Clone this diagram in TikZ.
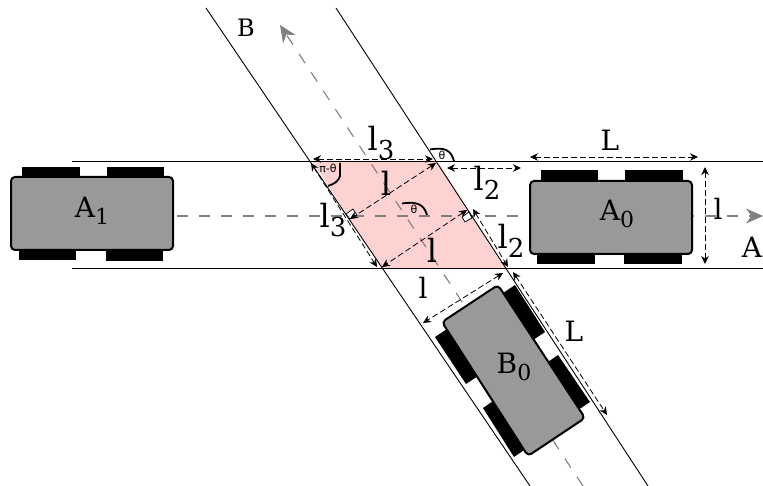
\documentclass[tikz,border=0pt]{standalone}
\usepackage{fontspec}
\setmainfont{DejaVu Serif}
\newfontfamily\anglefont{DejaVu Sans}
\usetikzlibrary{arrows.meta}
\newcommand\subs[2][22]{\raisebox{-.26em}{\fontsize{#1}{#1}\selectfont #2}}
\definecolor{bodygray}{HTML}{999999}
\definecolor{pinkzone}{HTML}{FFD2D2}
\tikzset{
  road/.style={draw=black,line width=0.9pt},
  axis/.style={draw=black!50,line width=1.1pt,dash pattern=on 11pt off 11pt,-{Stealth[length=17pt,width=15pt]}},
  dim/.style={draw=black,line width=0.8pt,dash pattern=on 6pt off 3pt,{Stealth[length=8pt,width=7.5pt]}-{Stealth[length=8pt,width=7.5pt]}},
  wheel/.style={fill=black,draw=none},
  body/.style={fill=bodygray,draw=black,line width=2pt,rounded corners=4pt},
  lab/.style={font=\fontsize{28}{28}\selectfont,inner sep=0pt},
  biglab/.style={font=\fontsize{32}{32}\selectfont,inner sep=0pt},
  anglemark/.style={draw=black,line width=1.8pt},
  anglelab/.style={font=\anglefont\fontsize{11}{11}\selectfont,inner sep=0pt},
  rightmark/.style={fill=white,draw=black,line width=0.7pt},
}
\begin{document}
\begin{tikzpicture}[x=1pt,y=-1pt]
\useasboundingbox (0,0) rectangle (763,486);
% named points of the roads
\coordinate (atl) at (72,161);   \coordinate (atr) at (763,161);
\coordinate (abl) at (72,268);   \coordinate (abr) at (763,268);
\coordinate (bl1) at (206,8);    \coordinate (bl2) at (530,486);
\coordinate (br1) at (336,8);    \coordinate (br2) at (648,486);
\coordinate (p1) at (312,161);   \coordinate (p2) at (437,161);
\coordinate (p3) at (505,268);   \coordinate (p4) at (382,268);
% conflict zone
\fill[pinkzone] (p1) -- (p2) -- (p3) -- (p4) -- cycle;
% axes
\coordinate (axs) at (177,216);  \coordinate (axe) at (763,216);
\coordinate (bxs) at (583,486);  \coordinate (bxe) at (280,25);
\draw[axis] (axs) -- (axe);
\draw[axis] (bxs) -- (bxe);
% roads
\draw[road] (atl) -- (atr);
\draw[road] (abl) -- (abr);
\draw[road] (bl1) -- (bl2);
\draw[road] (br1) -- (br2);
% car A1
\fill[wheel] (22,167) rectangle (80,178);
\fill[wheel] (107,167) rectangle (164,178);
\fill[wheel] (19,249) rectangle (76,260);
\fill[wheel] (106,249) rectangle (163,261);
\draw[body] (11,177) rectangle (173,250);
\node[lab] (A1) at (92,211) {A\subs{1}};
% car A0
\fill[wheel] (541,170) rectangle (598,182);
\fill[wheel] (625,170) rectangle (683,182);
\fill[wheel] (537,253) rectangle (595,264);
\fill[wheel] (624,253) rectangle (682,264);
\draw[body] (530,181) rectangle (692,254);
\node[lab] (A0) at (617,214) {A\subs{0}};
% car B0
\fill[wheel] (500,295) -- (515,285) -- (545,332) -- (530,342) -- cycle;
\fill[wheel] (545,364) -- (558,355) -- (590,402) -- (575,412) -- cycle;
\fill[wheel] (450,327) -- (435,337) -- (466,384) -- (481,374) -- cycle;
\fill[wheel] (496,399) -- (483,408) -- (514,457) -- (527,448) -- cycle;
\draw[body] (498,285) -- (585,418) -- (528,456) -- (442,322) -- cycle;
\node[lab] (B0) at (514,367) {B\subs{0}};
% right angle marks
\draw[rightmark] (346,214) -- (353,209) -- (357,215) -- (350,219) -- cycle;
\draw[rightmark] (462,217) -- (469,212) -- (472,218) -- (465,222) -- cycle;
% dimensions
\coordinate (dLa) at (530,157);  \coordinate (dLb) at (698,157);
\coordinate (dla) at (705,167);  \coordinate (dlb) at (705,264);
\coordinate (tha) at (313,159);  \coordinate (thb) at (433,159);
\coordinate (tta) at (447,168);  \coordinate (ttb) at (521,168);
\coordinate (u1) at (436,163);   \coordinate (u2) at (350,219);
\coordinate (w1) at (467,210);   \coordinate (w2) at (382,267);
\coordinate (s1) at (311,163);   \coordinate (s2) at (377,267);
\coordinate (r1) at (473,209);   \coordinate (r2) at (508,267);
\coordinate (c1) at (503,273);   \coordinate (c2) at (423,323);
\coordinate (e1) at (513,272);   \coordinate (e2) at (607,415);
\draw[dim] (dLa) -- (dLb);
\draw[dim] (dla) -- (dlb);
\draw[dim] (tha) -- (thb);
\draw[dim] (tta) -- (ttb);
\draw[dim] (u1) -- (u2);
\draw[dim] (w1) -- (w2);
\draw[dim] (s1) -- (s2);
\draw[dim] (r1) -- (r2);
\draw[dim] (c1) -- (c2);
\draw[dim] (e1) -- (e2);
% angle marks
\draw[anglemark] (430,149.5) .. controls (445,147) and (451,150) .. (454,161);
\draw[anglemark] (402,203.5) .. controls (418,201) and (424,205) .. (427,215);
\draw[anglemark] (340,163) -- (340,176) .. controls (339,181) and (334,184) .. (328,186);
\node[anglelab] (t1) at (442,155) {θ};
\node[anglelab] (t2) at (414,209) {θ};
\node[anglelab] (t3) at (328,168) {π-θ};
% labels
\node[biglab] (n1) at (381,143) {l\subs[26]{3}};
\node[biglab] (n2) at (386,183) {l};
\node[biglab] (n3) at (487,183) {l\subs[26]{2}};
\node[biglab] (n4) at (333,220) {l\subs[26]{3}};
\node[biglab] (n5) at (432,250) {l};
\node[biglab] (n6) at (511,241) {l\subs[26]{2}};
\node[lab] (n7) at (423,288) {l};
\node[lab] (n8) at (574,331) {L};
\node[lab] (n9) at (610,140) {L};
\node[lab] (n10) at (718,209) {l};
\node[lab] (n11) at (752,247) {A};
\node[lab,font=\fontsize{24}{24}\selectfont] (n12) at (246,28) {B};
\end{tikzpicture}
\end{document}
